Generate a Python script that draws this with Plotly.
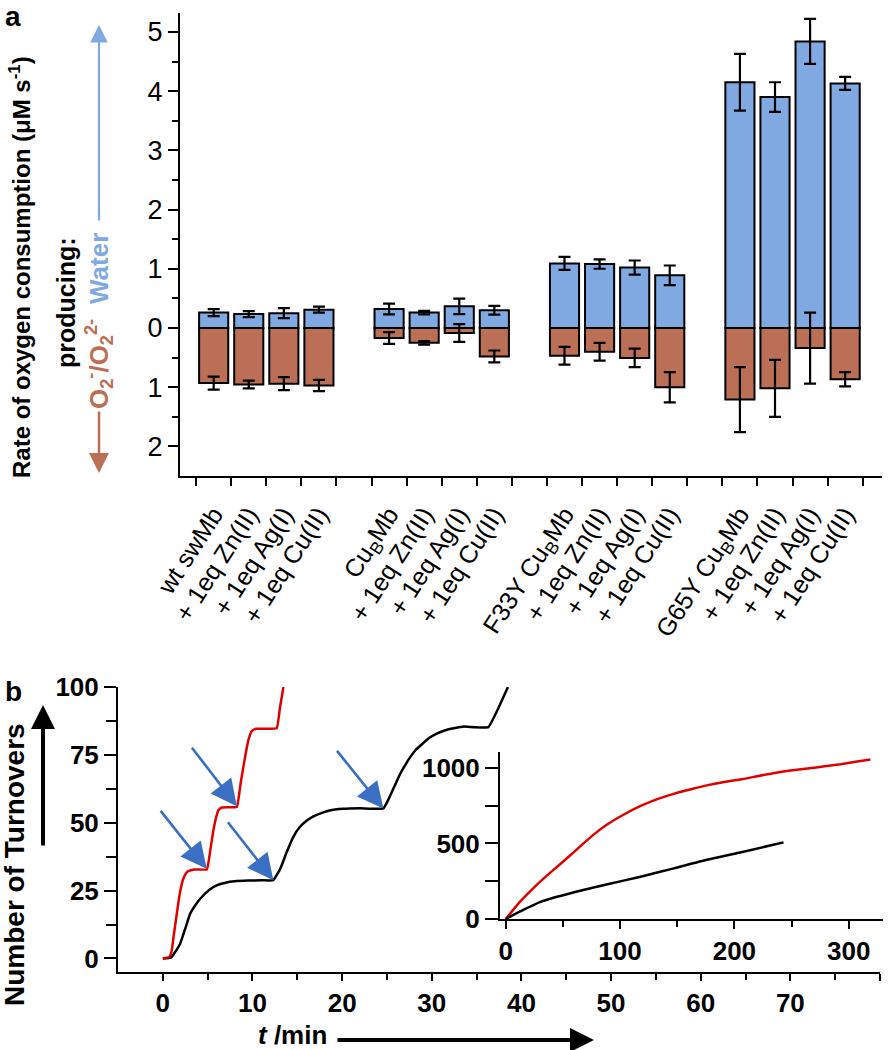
import plotly.graph_objects as go

# ---------------- Panel a data ----------------
group_names = ["wt swMb", "Cu<sub>B</sub>Mb", "F33Y Cu<sub>B</sub>Mb", "G65Y Cu<sub>B</sub>Mb"]
additions = ["", "+ 1eq Zn(II)", "+ 1eq Ag(I)", "+ 1eq Cu(II)"]

water_rate = [0.26, 0.235, 0.25, 0.31,
              0.32, 0.26, 0.365, 0.30,
              1.09, 1.08, 1.02, 0.89,
              4.15, 3.90, 4.84, 4.13]
water_err = [0.06, 0.05, 0.085, 0.05,
             0.09, 0.03, 0.13, 0.075,
             0.11, 0.08, 0.12, 0.165,
             0.48, 0.25, 0.38, 0.11]
superoxide_rate = [0.93, 0.955, 0.94, 0.97,
                   0.17, 0.25, 0.085, 0.48,
                   0.47, 0.40, 0.505, 1.00,
                   1.21, 1.02, 0.34, 0.865]
superoxide_err = [0.11, 0.065, 0.11, 0.095,
                  0.10, 0.03, 0.15, 0.10,
                  0.15, 0.15, 0.155, 0.255,
                  0.55, 0.48, 0.60, 0.12]

y_a_tickvals = [-2, -1, 0, 1, 2, 3, 4, 5]
y_a_ticktext = ["2", "1", "0", "1", "2", "3", "4", "5"]

# ---------------- Panel b data ----------------
black_t = [0, 0.9, 1.3, 1.93, 2.6, 3.05, 3.6, 4.17, 5.2, 6.0, 7.0, 8.0, 9.5, 11, 12.3,
           13.1, 13.8, 14.56, 15.3, 16.0, 16.8, 17.9, 18.6, 20.1, 22, 24.6,
           25.3, 25.85, 26.4, 27.0, 27.5, 28.2, 29.0, 29.7, 30.5, 31.2, 32.0, 33.5, 36.3, 37.4, 38.5]
black_n = [0, 0.3, 2, 5.4, 12, 16.5, 19.5, 22, 25.3, 26.9, 27.9, 28.4, 28.7, 28.8, 28.8,
           33, 39, 44.8, 48.5, 50.6, 52.3, 53.8, 54.5, 55.1, 55.3, 55.3,
           59.5, 63.5, 67.5, 71, 73.7, 76.8, 79.2, 81.2, 82.7, 83.7, 84.5, 85.4, 85.2, 92, 100]

red_t = [0, 0.75, 1.0, 1.2, 1.56, 1.9, 2.23, 2.55, 2.86, 3.5, 4.9, 5.1, 5.3, 5.64, 5.95, 6.2, 6.6,
         8.25, 8.45, 8.7, 9.18, 9.55, 9.92, 10.4, 12.7, 13.05, 13.45]
red_n = [0, 0.6, 3, 8, 16.5, 24, 28.8, 31.2, 32.2, 32.8, 32.8, 35.5, 40, 47.2, 52, 54.6, 55.6,
         55.8, 59, 65, 74.3, 80.5, 83.8, 84.6, 84.8, 92, 100]

# arrows marking substrate additions (tail t, tail N, head t, head N)
addition_tail_t = [-0.38, 3.12, 7.13, 19.3]
addition_tail_n = [54.9, 78.2, 50.7, 77.0]
addition_head_t = [4.9, 8.25, 12.33, 24.6]
addition_head_n = [33.0, 56.1, 28.8, 55.2]

inset_red_t = [0, 12, 24, 35, 45, 57, 68, 78, 88, 103, 118, 132, 147, 162, 176, 190, 205, 220, 234, 249, 264, 279, 293, 306, 319]
inset_red_n = [0, 110, 203, 280, 346, 425, 500, 565, 622, 690, 748, 792, 828, 858, 884, 905, 923, 945, 965, 982, 996, 1010, 1024, 1040, 1055]
inset_black_t = [0, 10, 30, 59, 88, 118, 147, 176, 205, 243]
inset_black_n = [0, 40, 112, 175, 228, 280, 335, 392, 440, 507]

BLUE = "#80A9E1"
BROWN = "#BC6F57"
ARROW_BLUE = "#3A6FC4"
FONT = "Arial, Liberation Sans, sans-serif"

W, H = 893, 1050

# positions: 4 groups of 4 bars, one empty slot between groups
xpos = []
ticktext = []
for g, gname in enumerate(group_names):
    for m, add in enumerate(additions):
        xpos.append(g * 5 + m + 0.5)
        ticktext.append(gname if m == 0 else add)

fig = go.Figure()

fig.add_trace(go.Bar(
    x=xpos, y=water_rate, width=0.83,
    marker=dict(color=BLUE, line=dict(color="black", width=2)),
    error_y=dict(type="data", array=water_err, color="black", thickness=2.2, width=6),
    xaxis="x", yaxis="y", showlegend=False))
fig.add_trace(go.Bar(
    x=xpos, y=[-v for v in superoxide_rate], width=0.83,
    marker=dict(color=BROWN, line=dict(color="black", width=2)),
    error_y=dict(type="data", array=superoxide_err, color="black", thickness=2.2, width=6),
    xaxis="x", yaxis="y", showlegend=False))

fig.add_trace(go.Scatter(x=black_t, y=black_n, mode="lines",
                         line=dict(color="black", width=2.5, shape="spline", smoothing=0.3),
                         xaxis="x2", yaxis="y2", showlegend=False))
fig.add_trace(go.Scatter(x=red_t, y=red_n, mode="lines",
                         line=dict(color="#E00000", width=2.5, shape="spline", smoothing=0.3),
                         xaxis="x2", yaxis="y2", showlegend=False))

fig.add_trace(go.Scatter(x=inset_red_t, y=inset_red_n, mode="lines",
                         line=dict(color="#E00000", width=2.5, shape="spline", smoothing=0.5),
                         xaxis="x3", yaxis="y3", showlegend=False))
fig.add_trace(go.Scatter(x=inset_black_t, y=inset_black_n, mode="lines",
                         line=dict(color="black", width=2.5, shape="spline", smoothing=0.5),
                         xaxis="x3", yaxis="y3", showlegend=False))

def px_x(p):
    return p / W

def px_y(p):
    return 1 - p / H

axis_common = dict(showline=True, linecolor="black", linewidth=2, showgrid=False,
                   zeroline=False, ticks="outside", tickcolor="black", tickwidth=2,
                   automargin=False)
bold_font = dict(size=26, family=FONT, weight="bold")

fig.update_layout(
    width=W, height=H,
    margin=dict(l=0, r=0, t=0, b=0, autoexpand=False),
    paper_bgcolor="white", plot_bgcolor="rgba(0,0,0,0)",
    barmode="overlay",
    font=dict(family=FONT, color="black"),
    xaxis=dict(**{**axis_common, "ticks": ""},
               domain=[px_x(180), px_x(882)], range=[-0.46, 19.55],
               tickmode="array", tickvals=xpos, ticktext=ticktext, tickangle=-57,
               tickfont=dict(size=25, family=FONT),
               ticklabelstandoff=12,
               minor=dict(tickvals=list(range(20)), ticks="outside", ticklen=8,
                          tickwidth=2, tickcolor="black"),
               anchor="y"),
    yaxis=dict(**axis_common, domain=[px_y(476), px_y(13)], range=[-2.5, 5.32],
               tickmode="array", tickvals=y_a_tickvals, ticktext=y_a_ticktext,
               ticklen=10, tickfont=dict(size=27, family=FONT),
               minor=dict(tickvals=[-1.5, -0.5, 0.5, 1.5, 2.5, 3.5, 4.5], ticks="outside",
                          ticklen=6, tickwidth=2, tickcolor="black"),
               anchor="x"),
    xaxis2=dict(**axis_common, domain=[px_x(118), px_x(880)], range=[-5, 80],
                tickmode="array", tickvals=[0, 10, 20, 30, 40, 50, 60, 70, 80], ticklen=7,
                tickfont=bold_font,
                minor=dict(tickvals=[5, 15, 25, 35, 45, 55, 65, 75], ticks="outside",
                           ticklen=6, tickwidth=2, tickcolor="black"),
                anchor="y2"),
    yaxis2=dict(**axis_common, domain=[px_y(972), px_y(687)], range=[-5, 100],
                tickmode="array", tickvals=[0, 25, 50, 75, 100], ticklen=12,
                tickfont=bold_font,
                minor=dict(tickvals=[12.5, 37.5, 62.5, 87.5], ticks="outside",
                           ticklen=10, tickwidth=2, tickcolor="black"),
                anchor="x2"),
    xaxis3=dict(**axis_common, domain=[px_x(500), px_x(883)], range=[-5, 330],
                tickmode="array", tickvals=[0, 100, 200, 300], ticklen=8,
                tickfont=bold_font,
                minor=dict(tickvals=[50, 150, 250], ticks="outside",
                           ticklen=6, tickwidth=2, tickcolor="black"),
                anchor="y3"),
    yaxis3=dict(**axis_common, domain=[px_y(919), px_y(752)], range=[0, 1105],
                tickmode="array", tickvals=[0, 500, 1000], ticklen=13,
                tickfont=bold_font,
                minor=dict(tickvals=[250, 750], ticks="outside",
                           ticklen=13, tickwidth=2, tickcolor="black"),
                anchor="x3"),
)

annotations = []

def ann(text, x, y, size, color="black", angle=0, bold=True, xanchor="center", yanchor="middle"):
    annotations.append(dict(
        text=text, x=px_x(x), y=px_y(y), xref="paper", yref="paper",
        showarrow=False, textangle=angle, xanchor=xanchor, yanchor=yanchor,
        font=dict(size=size, color=color, family=FONT, weight="bold" if bold else "normal")))

def arrow(x_head, y_head, x_tail, y_tail, color, width, size):
    annotations.append(dict(
        text="", x=px_x(x_head), y=px_y(y_head), xref="paper", yref="paper",
        ax=x_tail - x_head, ay=y_tail - y_head, axref="pixel", ayref="pixel",
        showarrow=True, arrowhead=2, arrowsize=size, arrowwidth=width, arrowcolor=color))

ann("a", 13, 16, 28)
ann("b", 13, 692, 28)

ann("Rate of oxygen consumption (μM s<sup>-1</sup>)", 20, 267, 24, angle=-90)
ann("producing:", 66, 303, 25, angle=-90)
ann("Water", 99, 269, 26, color=BLUE, angle=-90)
ann("O<sub>2</sub><sup>-</sup>/O<sub>2</sub><sup>2-</sup>", 99, 364, 26, color=BROWN, angle=-90)
arrow(99, 25, 99, 222, BLUE, 2.2, 1.6)
arrow(99, 473, 99, 410, BROWN, 2.5, 1.6)

ann("Number of Turnovers", 14, 865, 28, angle=-90)
arrow(43, 705, 43, 847, "black", 4, 1.2)
ann("<i>t</i> /min", 292, 1035, 26)
arrow(594, 1040, 336, 1040, "black", 4, 1.2)

for tt, tn, ht, hn in zip(addition_tail_t, addition_tail_n, addition_head_t, addition_head_n):
    annotations.append(dict(
        text="", x=ht, y=hn, xref="x2", yref="y2", ax=tt, ay=tn, axref="x2", ayref="y2",
        showarrow=True, arrowhead=2, arrowsize=2, arrowwidth=2.6, arrowcolor=ARROW_BLUE))

fig.update_layout(annotations=annotations)

fig.write_html("out.html", config={"displayModeBar": False},
               post_script="document.body.style.margin='0px';document.body.style.overflow='hidden';")
